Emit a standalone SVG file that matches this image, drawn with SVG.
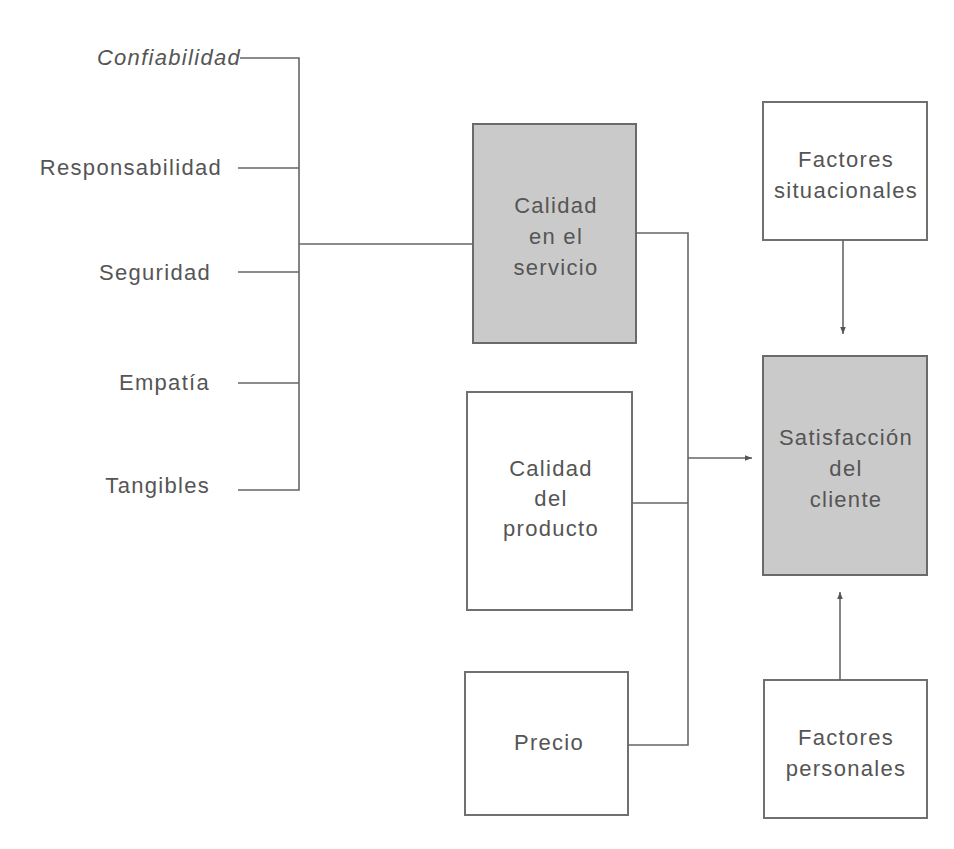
<svg xmlns="http://www.w3.org/2000/svg" width="954" height="849" viewBox="0 0 954 849">
<defs>
<marker id="ah" viewBox="0 0 10 10" refX="10" refY="5" markerWidth="7" markerHeight="7" orient="auto" markerUnits="userSpaceOnUse">
<path d="M0,1 L10,5 L0,9 z" fill="#555"/>
</marker>
<style>
.t{font-family:"Liberation Sans",Arial,sans-serif;font-size:22px;fill:#555;letter-spacing:1.3px;}
.c{text-anchor:middle;}
.r{text-anchor:end;}
.box{fill:#fff;stroke:#707070;stroke-width:2;}
.gbox{fill:#cacaca;stroke:#6a6a6a;stroke-width:2;}
.ln{fill:none;stroke:#666;stroke-width:1.6;}
</style>
</defs>
<rect width="954" height="849" fill="#fff"/>
<g id="labels">
<text class="t r" x="241" y="65" font-style="italic">Confiabilidad</text>
<text class="t r" x="222" y="175">Responsabilidad</text>
<text class="t r" x="211" y="280">Seguridad</text>
<text class="t r" x="210" y="390">Empatía</text>
<text class="t r" x="210" y="493">Tangibles</text>
</g>
<g id="servicio">
<rect class="gbox" x="473" y="124" width="163" height="219"/>
<text class="t c" x="556" y="213">Calidad</text>
<text class="t c" x="556" y="244">en el</text>
<text class="t c" x="556" y="275">servicio</text>
</g>
<g id="producto">
<rect class="box" x="467" y="392" width="165" height="218"/>
<text class="t c" x="551" y="476">Calidad</text>
<text class="t c" x="551" y="506">del</text>
<text class="t c" x="551" y="536">producto</text>
</g>
<g id="precio">
<rect class="box" x="465" y="672" width="163" height="143"/>
<text class="t c" x="549" y="750">Precio</text>
</g>
<g id="situacionales">
<rect class="box" x="763" y="102" width="164" height="138"/>
<text class="t c" x="846" y="167">Factores</text>
<text class="t c" x="846" y="198">situacionales</text>
</g>
<g id="satisfaccion">
<rect class="gbox" x="763" y="356" width="164" height="219"/>
<text class="t c" x="846" y="445">Satisfacción</text>
<text class="t c" x="846" y="476">del</text>
<text class="t c" x="846" y="507">cliente</text>
</g>
<g id="personales">
<rect class="box" x="764" y="680" width="163" height="138"/>
<text class="t c" x="846" y="745">Factores</text>
<text class="t c" x="846" y="776">personales</text>
</g>
<g id="connectors">
<path class="ln" d="M240,58 H299 V490 H238"/>
<path class="ln" d="M238,168 H299"/>
<path class="ln" d="M238,272 H299"/>
<path class="ln" d="M238,383 H299"/>
<path class="ln" d="M299,244 H473"/>
<path class="ln" d="M636,233 H688 V745 H628"/>
<path class="ln" d="M632,503 H688"/>
<path class="ln" d="M688,458 H752" marker-end="url(#ah)"/>
<path class="ln" d="M843,240 V334" marker-end="url(#ah)"/>
<path class="ln" d="M840,680 V592" marker-end="url(#ah)"/>
</g>
</svg>
